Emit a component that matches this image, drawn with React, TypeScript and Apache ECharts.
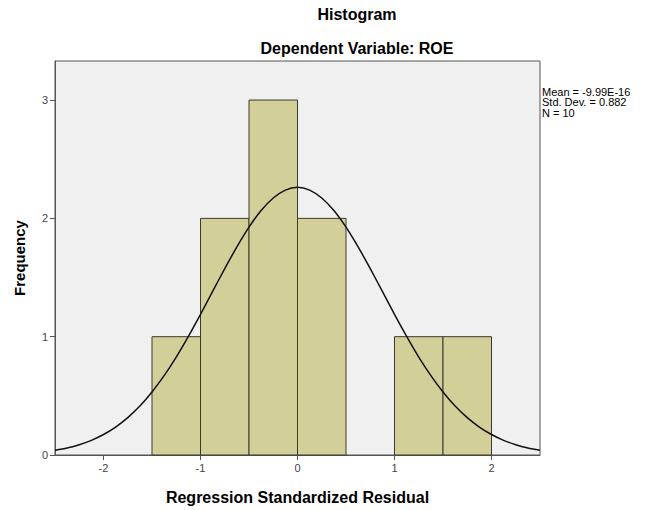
import React, { useEffect, useRef } from "react";
import * as echarts from "echarts";

// Histogram bins: [start, end, frequency]
const binStarts = [-1.5, -1.0, -0.5, 0.0, 1.0, 1.5];
const binEnds = [-1.0, -0.5, 0.0, 0.5, 1.5, 2.0];
const frequencies = [1, 2, 3, 2, 1, 1];

// Normal curve (x, y)
const curveX = [
  -2.5, -2.375, -2.25, -2.125, -2.0, -1.875, -1.75, -1.625, -1.5, -1.375, -1.25, -1.125, -1.0, -0.875, -0.75, -0.625, -0.5, -0.375, -0.25, -0.125,
  0,
  0.125, 0.25, 0.375, 0.5, 0.625, 0.75, 0.875, 1.0, 1.125, 1.25, 1.375, 1.5, 1.625, 1.75, 1.875, 2.0, 2.125, 2.25, 2.375, 2.5,
];
const curveY = [
  0.041, 0.06, 0.087, 0.124, 0.173, 0.236, 0.316, 0.414, 0.533, 0.671, 0.828, 1.003, 1.189, 1.383, 1.575, 1.759, 1.926, 2.066, 2.172, 2.239,
  2.262,
  2.239, 2.172, 2.066, 1.926, 1.759, 1.575, 1.383, 1.189, 1.003, 0.828, 0.671, 0.533, 0.414, 0.316, 0.236, 0.173, 0.124, 0.087, 0.06, 0.041,
];

const xTicks = [-2, -1, 0, 1, 2];
const yTicks = [0, 1, 2, 3];
const statsLines = ["Mean = -9.99E-16", "Std. Dev. = 0.882", "N = 10"];

export default function App() {
  const ref = useRef<HTMLDivElement>(null);
  useEffect(() => {
    if (!ref.current) return;
    const chart = echarts.init(ref.current, null, { renderer: "svg" });
    const barData = binStarts.map((s, i) => [s, binEnds[i], frequencies[i]]);
    const font = "'Liberation Sans', Arial, sans-serif";
    chart.setOption({
      animation: false,
      backgroundColor: "#ffffff",
      textStyle: { fontFamily: font },
      title: [
        {
          text: "Histogram",
          left: 352,
          top: 1,
          textAlign: "center",
          textStyle: { fontSize: 16, fontWeight: "bold", color: "#000", fontFamily: font },
        },
        {
          text: "Dependent Variable: ROE",
          left: 352,
          top: 35,
          textAlign: "center",
          textStyle: { fontSize: 16, fontWeight: "bold", color: "#000", fontFamily: font },
        },
      ],
      graphic: [
        {
          type: "text",
          left: 542,
          top: 86,
          style: {
            text: statsLines.join("\n"),
            font: `11px ${font}`,
            fill: "#000",
            lineHeight: 10.5,
          },
        },
      ],
      grid: {
        left: 55,
        right: 105,
        top: 61,
        bottom: 50,
        show: true,
        backgroundColor: "#f0f0f0",
        borderColor: "#555",
        borderWidth: 1,
      },
      xAxis: {
        type: "value",
        min: -2.5,
        max: 2.5,
        name: "Regression Standardized Residual",
        nameLocation: "middle",
        nameGap: 34,
        nameTextStyle: { fontSize: 16, fontWeight: "bold", color: "#000", fontFamily: font },
        axisLine: { show: true, onZero: false, lineStyle: { color: "#555" } },
        axisTick: { show: true, length: 5, lineStyle: { color: "#555" }, customValues: xTicks },
        axisLabel: { fontSize: 11, color: "#444", margin: 7, customValues: xTicks },
        splitLine: { show: false },
      },
      yAxis: {
        type: "value",
        min: 0,
        max: 3.33,
        name: "Frequency",
        nameLocation: "middle",
        nameGap: 28,
        nameTextStyle: { fontSize: 15, fontWeight: "bold", color: "#000", fontFamily: font },
        axisLine: { show: true, onZero: false, lineStyle: { color: "#555" } },
        axisTick: { show: true, length: 5, lineStyle: { color: "#555" }, customValues: yTicks },
        axisLabel: { fontSize: 11, color: "#444", margin: 7, customValues: yTicks },
        splitLine: { show: false },
      },
      series: [
        {
          type: "custom",
          data: barData,
          encode: { x: [0, 1], y: 2 },
          renderItem: (params: any, api: any) => {
            const p0 = api.coord([api.value(0), api.value(2)]);
            const p1 = api.coord([api.value(1), 0]);
            return {
              type: "rect",
              shape: { x: p0[0], y: p0[1], width: p1[0] - p0[0], height: p1[1] - p0[1] },
              style: { fill: "#d3cf98", stroke: "#3a3a30", lineWidth: 1 },
            };
          },
          z: 2,
        },
        {
          type: "line",
          data: curveX.map((x, i) => [x, curveY[i]]),
          smooth: 0.3,
          showSymbol: false,
          lineStyle: { color: "#111", width: 1.5 },
          z: 3,
        },
      ],
    });
    return () => chart.dispose();
  }, []);
  return (
    <div
      ref={ref}
      style={{ position: "absolute", left: 0, top: 0, width: 645, height: 510 }}
    />
  );
}
